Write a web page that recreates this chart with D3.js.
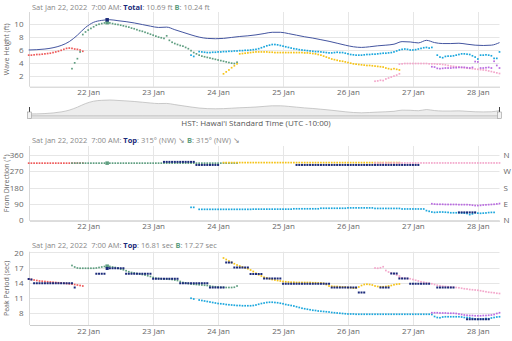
<!DOCTYPE html>
<html>
<head>
<meta charset="utf-8">
<script src="https://cdn.jsdelivr.net/npm/d3@7"></script>
<style>
  body { margin: 0; background: #fff; }
  svg { display: block; font-family: "Open Sans", sans-serif; }
  text { white-space: pre; }
</style>
</head>
<body>
<svg id="chart" width="512" height="341"></svg>
<script>
// hours are counted from 21 Jan 2022 00:00 HST, one value per hour unless noted
const heightTicks = [2, 4, 6, 8, 10];
const dirTicks = [0, 90, 180, 270, 360];
const dirCompass = ["N", "E", "S", "W", "N"];
const periodTicks = [8, 11, 14, 17, 20];

// total wave height, every 3 hours from hour 2
const totalStart = 2, totalStep = 3;
const totalHeight = [6.0, 6.05, 6.15, 6.35, 6.7, 7.3, 8.3, 9.5, 10.3, 10.6, 10.7, 10.55, 10.4, 10.2, 9.95, 9.7, 9.5, 9.55, 9.15, 8.75,
  8.35, 8.0, 7.8, 7.75, 7.8, 7.95, 8.1, 8.2, 8.35, 8.55, 8.75, 8.75, 8.55, 8.3, 8.05, 7.85, 7.6, 7.35, 7.05, 6.75,
  6.5, 6.4, 6.5, 6.65, 6.75, 6.9, 7.3, 7.25, 7.1, 7.5, 7.15, 7.0, 7.0, 7.05, 6.9, 6.75, 6.7, 6.75, 7.15];

const redStart = 2;
const redHeight = [5.2, 5.2, 5.25, 5.3, 5.3, 5.35, 5.4, 5.45, 5.5, 5.6, 5.7, 5.8, 5.95, 6.1, 6.25, 6.3, 6.25, 6.15, 6.1, 6.0, 5.8];
const redDir = [315, 315, 315, 315, 315, 315, 315, 315, 315, 315, 315, 315, 315, 315, 315, 315, 315, 315, 315, 315, 315];
const redPeriod = [14.7, 14.6, 14.5, 14.4, 14.3, 14.25, 14.2, 14.15, 14.1, 14.05, 14.0, 13.95, 13.9, 13.85, 13.8, 13.75, 13.7, 13.6, 13.5, 13.4, 13.3];

const greenStart = 18;
const greenHeight = [3.1, 4.0, 4.65, 5.7, 8.4, 8.8, 9.1, 9.35, 9.6, 9.85, 10.0, 10.1, 10.2, 10.24, 10.2, 10.1, 10.0, 9.95, 9.85, 9.75,
  9.65, 9.55, 9.4, 9.3, 9.15, 9.0, 8.9, 8.75, 8.6, 8.45, 8.3, 8.15, 8.0, 7.9, 7.8, 8.2, 7.5, 7.2, 7.0, 6.85,
  6.7, 6.6, 6.4, 6.2, 5.9, 5.6, 5.4, 5.2, 5.05, 4.95, 4.85, 4.75, 4.65, 4.55, 4.45, 4.35, 4.25, 4.15, 4.05, 3.95, 3.9, 4.1];
const greenDir = [315, 315, 315, 315, 315, 315, 315, 315, 315, 315, 315, 315, 315, 315, 315, 315, 315, 315, 315, 315,
  315, 315, 315, 315, 315, 315, 315, 315, 315, 315, 315, 315, 315, 315, 315, 315, 315, 315, 315, 315,
  315, 315, 315, 315, 315, 315, 315, 315, 315, 315, 315, 315, 315, 315, 315, 315, 315, 315, 315, 315, 315, 315];
const greenPeriod = [17.4, 17.1, 16.9, 16.85, 16.85, 16.85, 16.85, 16.85, 16.85, 16.9, 17.0, 17.1, 17.2, 17.27, 17.2, 17.1, 17.0, 16.85, 16.7, 16.55,
  16.35, 16.15, 16.0, 15.9, 15.8, 15.7, 15.6, 15.5, 15.35, 15.2, 15.0, 14.85, 14.8, 14.75, 14.7, 14.7, 14.65, 14.6, 14.5, 14.4,
  14.2, 14.0, 13.9, 13.8, 13.7, 13.65, 13.6, 13.55, 13.5, 13.45, 13.4, 13.3, 13.2, 13.15, 13.1, 13.05, 13.05, 13.0, 13.0, 13.0, 13.05, 13.3];

const cyanStart = 62;
const cyanHeight = [5.2, 5.0, null, 5.75, 5.7, 5.65, 5.6, 5.6, 5.65, 5.65, 5.7, 5.7, 5.75, 5.75, 5.8, 5.8, 5.85, 5.85, 5.9, 5.9,
  5.95, 5.95, 6.0, 6.05, 6.1, 6.2, 6.35, 6.5, 6.65, 6.75, 6.85, 6.85, 6.8, 6.7, 6.6, 6.5, 6.4, 6.3, 6.2, 6.15,
  6.05, 6.0, 5.95, 5.9, 5.85, 5.8, 5.75, 5.75, 5.7, 5.65, 5.6, 5.55, 5.55, 5.6, 5.65, 5.6, 5.6, 5.5, 5.4, 5.3,
  5.25, 5.2, 5.2, 5.2, 5.25, 5.3, 5.3, 5.35, 5.35, 5.4, 5.45, 5.5, 5.5, 5.55, 5.6, 5.7, 5.85, 6.0, 6.1, 6.15,
  6.1, 6.0, 6.0, 6.05, 6.15, 6.25, 6.35, 6.4, 6.3, 6.4, null, 5.2, 4.9, 4.8, 5.0, 5.05, 5.05, 5.1, 5.2, 5.3,
  5.4, 5.4, 5.35, 5.3, 5.1, 4.9, 4.6, 5.2, 5.2, 5.25, 5.2, 5.1, 4.7, 4.7, 5.7];
const cyanDir = [70, 70, null, 59, 59, 59, 59, 59, 59, 59, 59, 59, 59, 59, 59, 59, 59, 59, 59, 59,
  59, 59, 59, 60, 60, 60, 60, 60, 60, 60, 60, 60, 60, 60, 60, 60, 60, 60, 62, 62,
  62, 62, 62, 62, 62, 62, 62, 62, 65, 65, 65, 65, 65, 65, 65, 65, 65, 65, 67, 67,
  67, 67, 67, 67, 67, 67, 67, 67, 64, 64, 64, 64, 64, 64, 64, 64, 64, 64, 61, 61,
  61, 61, 61, 61, 61, 61, 61, 52, 48, 44, 42, 43, 44, 44, 43, 42, 40, 40, 40, 40,
  39, 38, 36, 30, 34, 40, 38, 37, 38, 39, 41, 42, 42];
const cyanPeriod = [10.85, 10.7, null, 10.5, 10.4, 10.3, 10.2, 10.1, 10.0, 9.9, 9.8, 9.75, 9.7, 9.6, 9.55, 9.5, 9.45, 9.4, 9.4, 9.35,
  9.35, 9.35, 9.35, 9.4, 9.5, 9.65, 9.8, 9.9, 10.0, 10.05, 10.05, 10.0, 9.95, 9.85, 9.75, 9.6, 9.5, 9.4, 9.3, 9.15,
  9.0, 8.85, 8.75, 8.65, 8.55, 8.45, 8.4, 8.3, 8.25, 8.2, 8.15, 8.1, 8.0, 7.95, 7.9, 7.85, 7.8, 7.75, 7.7, 7.7,
  7.7, 7.65, 7.65, 7.65, 7.65, 7.65, 7.65, 7.65, 7.65, 7.65, 7.65, 7.65, 7.65, 7.65, 7.65, 7.65, 7.65, 7.65, 7.65, 7.65,
  7.65, 7.65, 7.65, 7.65, 7.65, 7.65, 7.65, 7.65, 7.65, 7.6, 7.2, 7.0, 6.95, 7.1, 7.15, 7.15, 7.15, 7.15, 7.15, 7.15,
  7.1, 7.0, 7.0, 6.95, 6.8, 6.7, 6.65, 6.7, 6.7, 6.8, 6.75, 6.9, 7.0, 7.1, 7.15];

const yellowStart = 74;
const yellowHeight = [2.3, 2.6, 2.9, 3.25, 3.55, 3.85, 5.4, 5.45, 5.5, 5.55, 5.6, 5.65, 5.7, 5.7, 5.7, 5.7, 5.7, 5.65, 5.65, 5.6,
  5.6, 5.6, 5.6, 5.6, 5.6, 5.6, 5.6, 5.6, 5.6, 5.6, 5.55, 5.55, 5.5, 5.45, 5.4, 5.3, 5.2, 5.05, 4.9, 4.75,
  4.6, 4.5, 4.4, 4.3, 4.25, 4.15, 4.05, 3.95, 3.85, 3.8, 3.75, 3.7, 3.65, 3.6, 3.6, 3.55, 3.5, 3.45, 3.4, 3.35,
  3.2, 3.1, 3.0, 3.1, 3.0, 2.9];
const yellowDir = [318, 318, 318, 318, 318, 318, 318, 318, 318, 318, 318, 318, 318, 318, 318, 318, 318, 318, 318, 318,
  318, 318, 318, 318, 318, 318, 318, 318, 318, 318, 318, 318, 318, 318, 318, 318, 318, 318, 318, 318,
  318, 318, 318, 318, 318, 318, 318, 318, 318, 318, 318, 318, 318, 318, 318, 318, 318, 318, 318, 318,
  318, 318, 318, 318, 318, 318];
const yellowPeriod = [18.9, 18.6, 18.3, 18.0, 17.75, 17.5, 17.3, 17.1, 16.9, 16.75, 16.5, 16.2, 15.85, 15.55, 15.3, 15.05, 14.9, 14.75, 14.6, 14.5,
  14.4, 14.3, 14.2, 14.15, 14.1, 14.05, 14.05, 14.0, 14.0, 14.0, 14.0, 14.0, 14.0, 13.95, 13.95, 13.9, 13.9, 13.85, 13.6, 13.3,
  13.25, 13.2, 13.2, 13.15, 13.1, 13.1, 13.0, 13.0, 12.9, 12.9, 13.1, 13.4, 13.6, 13.65, 13.6, 13.5, 13.3, 13.2, 13.15, 13.15,
  13.2, 13.3, 13.4, 13.55, 13.65, 13.7];

const pinkLowStart = 130;
const pinkLowHeight = [1.15, 1.2, 1.3, 1.25, 1.5, 1.65, 1.8, 1.95, 2.1, 2.3];
const pinkLowDir = [316, 316, 316, 316, 316, 316, 316, 316, 316, 316];
const pinkLowPeriod = [16.9, 16.85, 16.95, 17.15, 16.4, 16.1, 15.9, 15.7, 15.5, 15.3];

const pinkStart = 139;
const pinkHeight = [3.8, 3.85, 3.9, 3.9, 3.9, 3.9, 3.9, 3.9, 3.9, 3.9, 3.9, 3.85, 3.85, 3.85, 3.8, 3.8, 3.75, 3.7, 3.6, 3.5,
  3.45, 3.4, 3.35, 3.3, 3.25, 3.2, 3.15, 3.1, 3.05, 3.0, 2.95, 2.9, 2.85, 2.75, 2.65, 2.55, 2.45, 2.35];
const pinkDir = [316, 316, 316, 316, 316, 316, 316, 316, 316, 316, 316, 316, 316, 316, 316, 316, 316, 316, 316, 316,
  316, 316, 316, 316, 316, 316, 316, 316, 316, 316, 316, 316, 316, 316, 316, 316, 316, 316];
const pinkPeriod = [15.0, 14.9, 14.85, 14.8, 14.75, 14.6, 14.45, 14.3, 14.15, 14.05, 13.95, 13.85, 13.75, 13.6, 13.45, 13.35, 13.25, 13.2, 13.15, 13.1,
  13.05, 13.0, 12.95, 12.85, 12.75, 12.7, 12.6, 12.55, 12.5, 12.45, 12.35, 12.25, 12.15, 12.05, 12.0, 11.95, 11.85, 11.8];

const purpleStart = 151;
const purpleHeight = [3.4, 3.35, 3.15, 3.1, 3.15, 3.2, 3.2, 3.2, 3.25, 3.25, 3.3, 3.3, 3.3, 3.25, 3.2, 3.3, 4.2, 4.15, 3.2, 3.2,
  3.25, 3.3, 3.2, 4.25, 3.6, 3.2];
const purpleDir = [90, 88, 87, 87, 87, 86, 86, 86, 86, 86, 85, 85, 85, 85, 84, 82, 80, 80, 81, 83, 84, 85, 86, 87, 89, 91];
const purplePeriod = [7.95, 7.95, 7.95, 7.9, 7.9, 7.9, 7.85, 7.85, 7.85, 7.8, 7.7, 7.6, 7.5, 7.45, 7.4, 7.4, 7.35, 7.35, 7.35, 7.4,
  7.4, 7.45, 7.5, 7.6, 7.8, 7.95];

// "Top" component (navy dots)
const topDirStart = 52;
const topDir = [322, 322, 322, 322, 322, 322, 322, 322, 322, 322, 322, 322, 305, 305, 305, 305, 305, 305, 305, 305, 305,
  null, null, null, null, null, null, null, null, null, null, null, null, null, null,
  null, null, null, null, null, null, null, null, null, null, null, null, null, null,
  305, 305, 305, 305, 305, 305, 305, 305, 305, 305, 305, 305, 305, 305, 305, 305, 305, 305, 305, 305, 305, 305, 305,
  305, 305, 305, 305, 305, 305, 305, 305, 305, 305, 305, 305, 305, 305, 305, 305, 305, 305, 305, 305, 305, 305, 305,
  null, null, null, null, null, null, null, null, null, null, null, null, null, null,
  42, 42, 42, 42, 42, 42, 42];
const topPeriodStart = 2;
const topPeriod = [14.7, 14.6, 13.85, 13.85, 13.85, 13.85, 13.85, 13.85, 13.85, 13.85, 13.85, 13.85, 13.85, 13.85, 13.85, 13.85, 13.85, 13.0,
  null, null, null, null, null, null, null, 15.75, 15.75, 15.75, 15.75, 16.81, 16.85, 16.85, 16.85, 16.85, 16.85, 16.85,
  15.75, 15.75, 15.75, 15.75, 15.75, 15.75, 15.75, 15.75, 15.75, 15.75, 14.75, 14.75, 14.75, 14.75, 14.75, 14.75, 14.75, 14.75, 14.75, 14.75,
  13.85, 13.85, 13.85, 13.85, 13.85, 13.85, 13.85, 13.85, 13.85, 13.85, 13.85, 13.0, 13.0, 13.0, 13.0, 13.0, 13.0,
  18.0, 18.0, 18.0, 17.0, 17.0, 17.0, 17.0, 17.0, 17.0, 15.7, 15.7, 15.7, 15.7, 15.7, 14.8, 14.8, 14.8, 14.8, 14.8, 14.8, 14.8,
  13.75, 13.75, 13.75, 13.75, 13.75, 13.75, 13.75, 13.75, 13.75, 13.75, 13.75, 13.75, 13.75, 13.75, 13.75, 13.75, 13.75, 13.75,
  13.0, 13.0, 13.0, 13.0, 13.0, 13.0, 13.0, 13.0, 13.0, 13.0, 12.0, 12.0, 12.0, null, null, null, null, null,
  13.0, 13.0, 13.0, 13.0, 15.8, 15.8, 15.8, 14.8, 14.8, 14.8, 14.8, 13.75, 13.75, 13.75, 13.75, 13.75, 13.75, 13.75, 13.75,
  null, null, 13.0, 13.0, 13.0, 13.0, 13.0, 13.0, 13.0, null, null, null, null,
  6.65, 6.65, 6.65, 6.65, 6.65, 6.65, 6.65, 6.65, 6.65];

// hovered point shown in the headers
const hoverHour = 31;
const hoverTotal = 10.69, hoverB = 10.24;
const hoverTopDir = 315, hoverBDir = 315;
const hoverTopPeriod = 16.81, hoverBPeriod = 17.27;

const colors = {
  red: "#ee5b5b", green: "#5f9e80", cyan: "#1ca7dd", yellow: "#f5c317",
  pink: "#f3a7cb", purple: "#b96ae0", navy: "#1b2a7a", total: "#4455a0"
};

const svg = d3.select("#chart");
const t0 = Date.UTC(2022, 0, 21);
const at = h => new Date(t0 + h * 36e5);
const left = 29.5, right = 499.5;
const x = d3.scaleUtc().domain([at(2.3), at(176)]).range([left, right]);
const days = x.ticks(d3.utcDay.every(1));

function pts(start, values, step = 1) {
  return values.map((v, i) => ({ t: at(start + i * step), v })).filter(d => d.v !== null);
}

function panel(cfg) {
  const y = d3.scaleLinear().domain(cfg.domain).range([cfg.bottom, cfg.top]);
  const g = svg.append("g");

  g.append("g").selectAll("line").data(days).join("line")
    .attr("x1", d => Math.round(x(d)) + 0.5).attr("x2", d => Math.round(x(d)) + 0.5)
    .attr("y1", cfg.top).attr("y2", cfg.bottom)
    .attr("stroke", "#e6e6e6");
  g.append("g").selectAll("line").data(cfg.ticks).join("line")
    .attr("x1", left).attr("x2", right)
    .attr("y1", d => Math.round(y(d)) + 0.5).attr("y2", d => Math.round(y(d)) + 0.5)
    .attr("stroke", "#e6e6e6");
  g.append("line")
    .attr("x1", left).attr("x2", left).attr("y1", cfg.top).attr("y2", cfg.bottom)
    .attr("stroke", "#d8d8d8");

  const yAxis = g.append("g").attr("transform", `translate(${left},0)`)
    .call(d3.axisLeft(y).tickValues(cfg.ticks).tickSize(0).tickPadding(6));
  yAxis.select(".domain").remove();
  yAxis.selectAll("text").attr("fill", "#666").attr("font-size", 8).attr("font-family", "Open Sans");

  const xAxis = g.append("g").attr("transform", `translate(0,${cfg.bottom})`)
    .call(d3.axisBottom(x).tickValues(days).tickFormat(d3.utcFormat("%-d %b")).tickSize(0).tickPadding(3));
  xAxis.select(".domain").attr("stroke", "#ccc");
  xAxis.selectAll("text").attr("fill", "#666").attr("font-size", 8).attr("font-family", "Open Sans");

  g.append("text")
    .attr("transform", `translate(9,${(cfg.top + cfg.bottom) / 2}) rotate(-90)`)
    .attr("text-anchor", "middle")
    .attr("font-size", 7).attr("fill", "#666")
    .text(cfg.title);

  const head = g.append("text").attr("x", 32).attr("y", cfg.headY).attr("font-size", 7.5).attr("fill", "#888");
  cfg.header.forEach(([s, c]) => {
    head.append("tspan").text(s).attr("fill", c || "#888").attr("font-weight", c ? "bold" : null);
  });
  return { g, y };
}

function dots(g, y, data, color, size = 1.7) {
  g.append("g").selectAll("rect").data(data).join("rect")
    .attr("x", d => x(d.t) - size / 2).attr("y", d => y(d.v) - size / 2)
    .attr("width", size).attr("height", size)
    .attr("fill", color);
}

const when = "Sat Jan 22, 2022  7:00 AM: ";

// wave height
const hp = panel({
  top: 12, bottom: 86.7, domain: [0.3, 11.9], ticks: heightTicks, title: "Wave Height (ft)", headY: 10,
  header: [[when], ["Total", colors.navy], [`: ${hoverTotal} ft `], ["B", colors.green], [`: ${hoverB} ft`]]
});
dots(hp.g, hp.y, pts(redStart, redHeight), colors.red);
dots(hp.g, hp.y, pts(greenStart, greenHeight), colors.green);
dots(hp.g, hp.y, pts(cyanStart, cyanHeight), colors.cyan);
dots(hp.g, hp.y, pts(yellowStart, yellowHeight), colors.yellow);
dots(hp.g, hp.y, pts(pinkLowStart, pinkLowHeight), colors.pink);
dots(hp.g, hp.y, pts(pinkStart, pinkHeight), colors.pink);
dots(hp.g, hp.y, pts(purpleStart, purpleHeight), colors.purple);
const totalPts = pts(totalStart, totalHeight, totalStep);
hp.g.append("path").datum(totalPts)
  .attr("fill", "none").attr("stroke", colors.total).attr("stroke-width", 1)
  .attr("d", d3.line().x(d => x(d.t)).y(d => hp.y(d.v)).curve(d3.curveMonotoneX));
dots(hp.g, hp.y, [{ t: at(hoverHour), v: hoverB }], colors.green, 3.5);
dots(hp.g, hp.y, [{ t: at(hoverHour), v: hoverTotal }], colors.navy, 3.5);

// navigator
const nav = svg.append("g");
const navY = d3.scaleLinear().domain(d3.extent(totalHeight)).range([114, 100]);
nav.append("path").datum(totalPts)
  .attr("fill", "#ededed").attr("stroke", "#b5b5b5").attr("stroke-width", 0.7)
  .attr("d", d3.area().x(d => x(d.t)).y0(116).y1(d => navY(d.v)).curve(d3.curveMonotoneX));
nav.append("rect").attr("x", left).attr("y", 116).attr("width", right - left).attr("height", 2.2)
  .attr("fill", "#e4e4e4").attr("stroke", "#bbb").attr("stroke-width", 0.5);
[left, right].forEach(hx => {
  nav.append("line").attr("x1", hx).attr("x2", hx).attr("y1", 107).attr("y2", 117).attr("stroke", "#444");
  nav.append("rect").attr("x", hx - 2).attr("y", 112).attr("width", 4).attr("height", 6.5)
    .attr("fill", "#f2f2f2").attr("stroke", "#999").attr("stroke-width", 0.6);
});
nav.append("text").attr("x", 256).attr("y", 125.5).attr("text-anchor", "middle")
  .attr("font-size", 8).attr("fill", "#555").text("HST: Hawai'i Standard Time (UTC -10:00)");

// direction
const dp = panel({
  top: 146, bottom: 220.7, domain: [-4, 410], ticks: dirTicks, title: "From Direction (°)", headY: 142.5,
  header: [[when], ["Top", colors.navy], [`: ${hoverTopDir}° (NW) ↘ `], ["B", colors.green], [`: ${hoverBDir}° (NW) ↘`]]
});
const compass = dp.g.append("g").attr("transform", `translate(${right},0)`)
  .call(d3.axisRight(dp.y).tickValues(dirTicks).tickFormat((d, i) => dirCompass[i]).tickSize(0).tickPadding(4));
compass.select(".domain").remove();
compass.selectAll("text").attr("fill", "#666").attr("font-size", 8).attr("font-family", "Open Sans");
dots(dp.g, dp.y, pts(redStart, redDir), colors.red);
dots(dp.g, dp.y, pts(greenStart, greenDir), colors.green);
dots(dp.g, dp.y, pts(cyanStart, cyanDir), colors.cyan);
dots(dp.g, dp.y, pts(yellowStart, yellowDir), colors.yellow);
dots(dp.g, dp.y, pts(pinkLowStart, pinkLowDir), colors.pink);
dots(dp.g, dp.y, pts(pinkStart, pinkDir), colors.pink);
dots(dp.g, dp.y, pts(purpleStart, purpleDir), colors.purple);
dots(dp.g, dp.y, pts(topDirStart, topDir), colors.navy, 2);
dots(dp.g, dp.y, [{ t: at(hoverHour), v: hoverBDir }], colors.green, 3.5);

// peak period
const pp = panel({
  top: 251.7, bottom: 325, domain: [5.5, 20.16], ticks: periodTicks, title: "Peak Period (sec)", headY: 247.5,
  header: [[when], ["Top", colors.navy], [`: ${hoverTopPeriod} sec `], ["B", colors.green], [`: ${hoverBPeriod} sec`]]
});
dots(pp.g, pp.y, pts(redStart, redPeriod), colors.red);
dots(pp.g, pp.y, pts(greenStart, greenPeriod), colors.green);
dots(pp.g, pp.y, pts(cyanStart, cyanPeriod), colors.cyan);
dots(pp.g, pp.y, pts(yellowStart, yellowPeriod), colors.yellow);
dots(pp.g, pp.y, pts(pinkLowStart, pinkLowPeriod), colors.pink);
dots(pp.g, pp.y, pts(pinkStart, pinkPeriod), colors.pink);
dots(pp.g, pp.y, pts(purpleStart, purplePeriod), colors.purple);
dots(pp.g, pp.y, pts(topPeriodStart, topPeriod), colors.navy, 2);
dots(pp.g, pp.y, [{ t: at(hoverHour), v: hoverBPeriod }], colors.green, 3.5);
dots(pp.g, pp.y, [{ t: at(hoverHour), v: hoverTopPeriod }], colors.navy, 3);
</script>
</body>
</html>
